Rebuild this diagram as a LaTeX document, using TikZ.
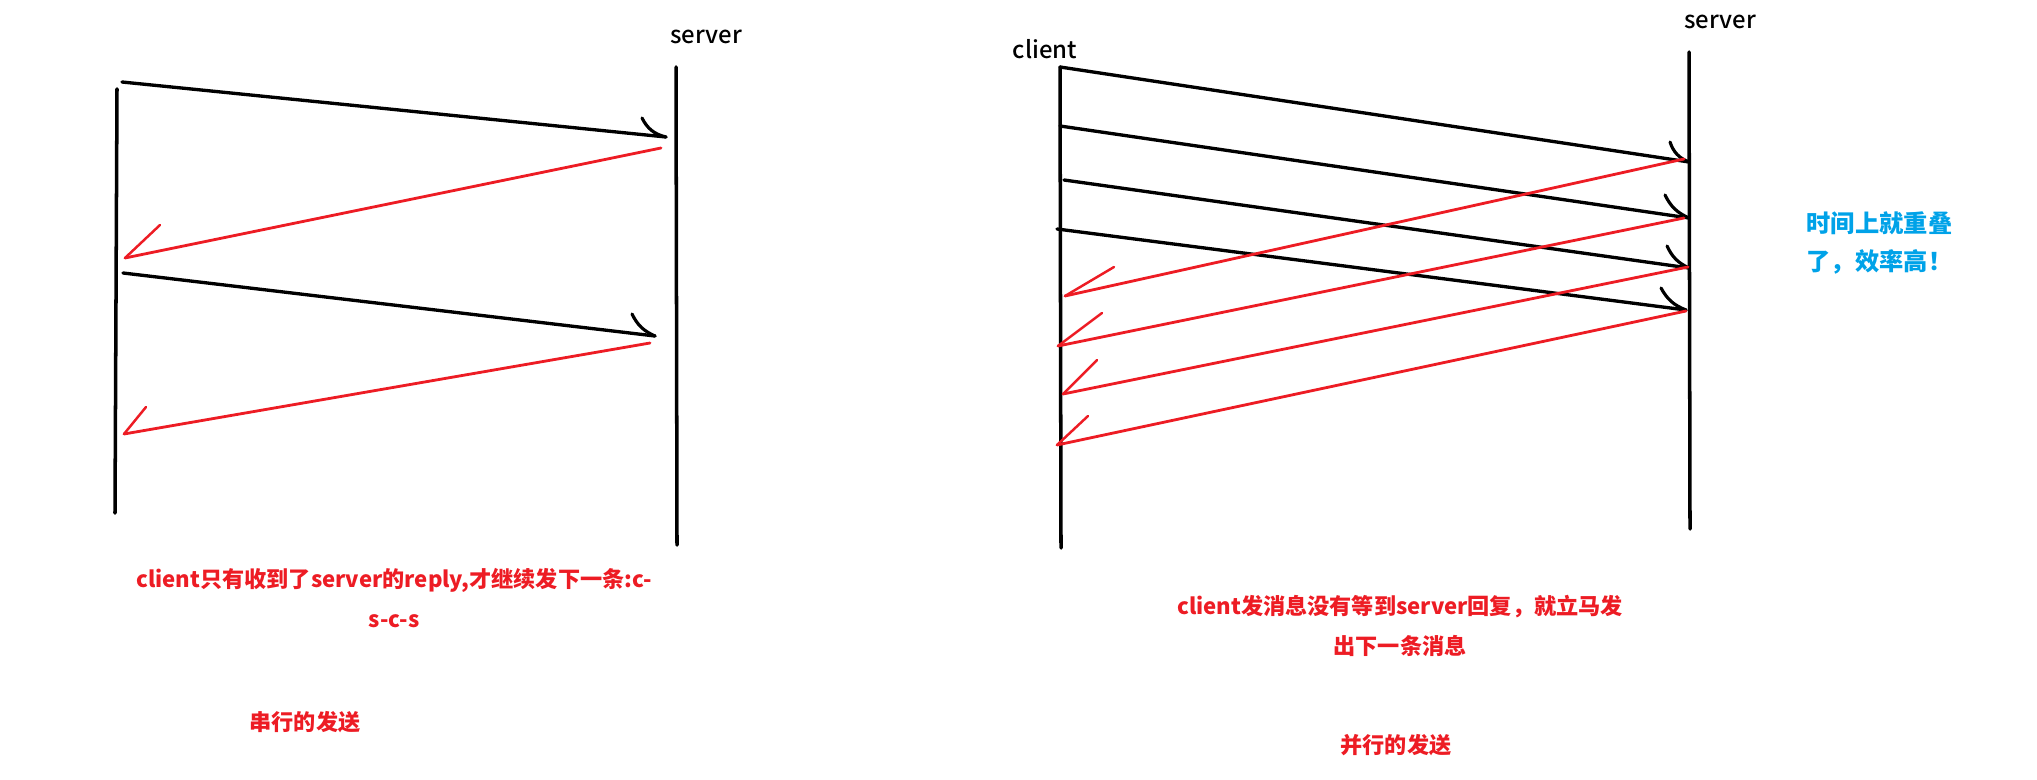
\documentclass[tikz,border=0pt]{standalone}
\usepackage{fontspec}
\setmainfont{Noto Sans CJK SC}
\newfontfamily\whofont{Noto Sans CJK SC}[UprightFont=* Medium]
\definecolor{paintred}{RGB}{237,28,36}
\definecolor{paintblue}{RGB}{0,162,232}
\tikzset{
  life/.style={line width=1pt, line cap=round},
  req/.style={line width=0.95pt, line cap=round},
  reply/.style={line width=0.8pt, paintred, line cap=round},
  kbarb/.style={line width=0.9pt, line cap=round},
  rbarb/.style={line width=0.7pt, paintred, line cap=round},
  who/.style={inner sep=0pt, font=\whofont\fontsize{6.8pt}{8pt}\selectfont},
  note/.style={inner sep=0pt, align=center, text=paintred,
    font=\fontsize{6.3pt}{11.2pt}\selectfont\bfseries},
}
\begin{document}
\begin{tikzpicture}[x=0.01cm, y=-0.01cm]
    \useasboundingbox (0,0) rectangle (2037,779);

    % serial sending: lifelines
    \coordinate (cA) at (117,89);  \coordinate (cAend) at (115,513);
    \coordinate (sA) at (676,67);  \coordinate (sAend) at (677,545);
    \draw[life] (cA) -- (cAend);
    \draw[life] (sA) -- (sAend);
    \node[who] (srvA) at (706,37) {server};

    % serial sending: request, reply, request, reply
    \coordinate (q1) at (122,82);  \coordinate (q1e) at (666,137);
    \coordinate (r1) at (661,148); \coordinate (r1e) at (125,258);
    \coordinate (q2) at (123,273); \coordinate (q2e) at (655,336);
    \coordinate (r2) at (650,343); \coordinate (r2e) at (124,434);
    \draw[req] (q1) -- (q1e);
    \draw[kbarb] (q1e) to[bend left=25] ++(-24,-19);
    \draw[reply] (r1) -- (r1e);
    \draw[rbarb] (r1e) -- ++(35,-33);
    \draw[req] (q2) -- (q2e);
    \draw[kbarb] (q2e) to[bend left=20] ++(-23,-22);
    \draw[reply] (r2) -- (r2e);
    \draw[rbarb] (r2e) -- ++(22,-27);

    \node[note] (serialnote) at (394,598) {client只有收到了server的reply,才继续发下一条:c-\\s-c-s};
    \node[note] (serialtitle) at (305,722) {串行的发送};

    % parallel sending: lifelines
    \coordinate (cB) at (1060,67);  \coordinate (cBend) at (1061,548);
    \coordinate (sB) at (1689,52);  \coordinate (sBend) at (1690,529);
    \draw[life] (cB) -- (cBend);
    \draw[life] (sB) -- (sBend);
    \node[who] (cliB) at (1045,49) {client};
    \node[who] (srvB) at (1720,22) {server};

    % parallel sending: four requests before any reply
    \coordinate (pa) at (1060,67);  \coordinate (pae) at (1689,162);
    \coordinate (pb) at (1060,126); \coordinate (pbe) at (1689,218);
    \coordinate (pc) at (1064,180); \coordinate (pce) at (1689,268);
    \coordinate (pd) at (1057,229); \coordinate (pde) at (1686,310);
    \draw[req] (pa) -- (pae);
    \draw[kbarb] (pae) to[bend left=25] ++(-19,-20);
    \draw[req] (pb) -- (pbe);
    \draw[kbarb] (pbe) to[bend left=20] ++(-24,-23);
    \draw[req] (pc) -- (pce);
    \draw[kbarb] (pce) to[bend left=20] ++(-22,-22);
    \draw[req] (pd) -- (pde);
    \draw[kbarb] (pde) to[bend left=20] ++(-25,-22);

    % replies
    \coordinate (ra) at (1684,159); \coordinate (rae) at (1065,296);
    \coordinate (rb) at (1684,218); \coordinate (rbe) at (1058,346);
    \coordinate (rc) at (1688,267); \coordinate (rce) at (1063,394);
    \coordinate (rd) at (1686,311); \coordinate (rde) at (1057,445);
    \draw[reply] (ra) -- (rae);
    \draw[rbarb] (rae) -- ++(49,-29);
    \draw[reply] (rb) -- (rbe);
    \draw[rbarb] (rbe) -- ++(44,-33);
    \draw[reply] (rc) -- (rce);
    \draw[rbarb] (rce) -- ++(34,-34);
    \draw[reply] (rd) -- (rde);
    \draw[rbarb] (rde) -- ++(31,-29);

    \node[note] (parnote) at (1400,626) {client发消息没有等到server回复，就立马发\\出下一条消息};
    \node[note] (partitle) at (1396,745) {并行的发送};
    \node[note, text=paintblue, align=left, anchor=west,
      font=\fontsize{6.9pt}{10.6pt}\selectfont\bfseries] (overlap) at (1806,243) {时间上就重叠\\了，效率高！};
\end{tikzpicture}
\end{document}
